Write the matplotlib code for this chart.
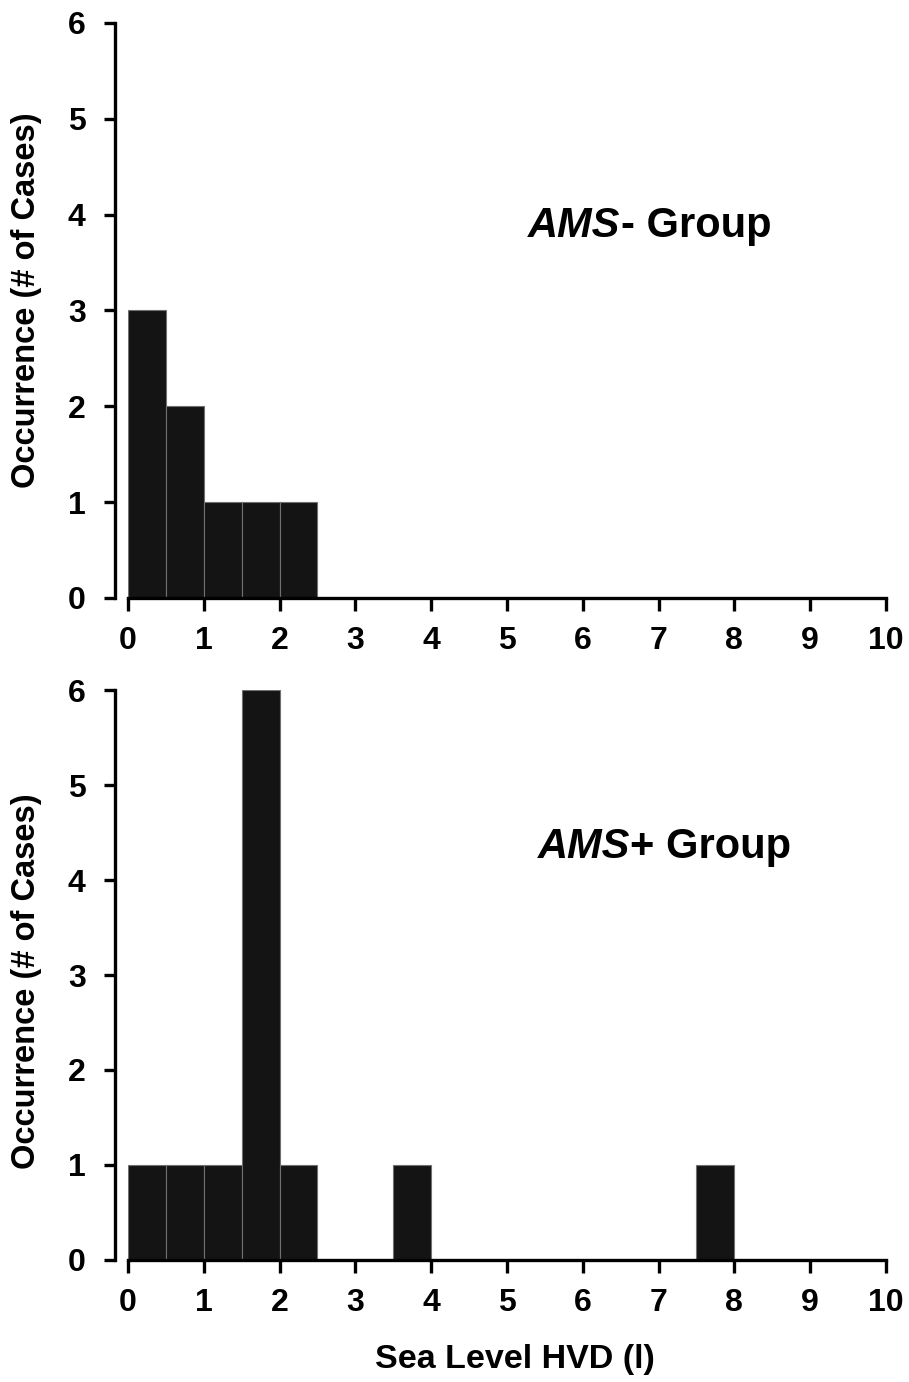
import numpy as np
import matplotlib
matplotlib.use("Agg")
import matplotlib.pyplot as plt

plt.rcParams['font.family'] = ['Liberation Sans', 'DejaVu Sans']

# histogram bins (left edges, width 0.5 l)
bin_left = [0.0, 0.5, 1.0, 1.5, 2.0, 2.5, 3.0, 3.5, 4.0, 4.5,
            5.0, 5.5, 6.0, 6.5, 7.0, 7.5, 8.0, 8.5, 9.0, 9.5]
bin_width = 0.5

ams_minus = [3, 2, 1, 1, 1, 0, 0, 0, 0, 0, 0, 0, 0, 0, 0, 0, 0, 0, 0, 0]
ams_plus = [1, 1, 1, 6, 1, 0, 0, 1, 0, 0, 0, 0, 0, 0, 0, 1, 0, 0, 0, 0]

x_ticks = [0, 1, 2, 3, 4, 5, 6, 7, 8, 9, 10]
y_ticks = [0, 1, 2, 3, 4, 5, 6]

ylabel = 'Occurrence (# of Cases)'
xlabel = 'Sea Level HVD (l)'


def style_axes(ax, label_y):
    ax.set_xlim(0, 10)
    ax.set_ylim(0, 6)
    ax.set_xticks(x_ticks)
    ax.set_yticks(y_ticks)
    ax.spines['top'].set_visible(False)
    ax.spines['right'].set_visible(False)
    ax.spines['left'].set_linewidth(2.4)
    ax.spines['bottom'].set_linewidth(2.4)
    ax.spines['left'].set_position(('outward', 9.5))
    ax.tick_params(axis='x', direction='out', length=9, width=2.4,
                   pad=11, labelsize=23)
    ax.tick_params(axis='y', direction='out', length=8, width=2.4,
                   pad=13, labelsize=23)
    for lab in ax.get_xticklabels() + ax.get_yticklabels():
        lab.set_fontweight('bold')
    ax.set_ylabel(ylabel, fontsize=23.5, fontweight='bold')
    ax.yaxis.set_label_coords(-0.113, label_y)


fig = plt.figure(figsize=(9.09, 13.82), dpi=100)
ax1 = fig.add_axes([0.1408, 0.5673, 0.8339, 0.4161])
ax2 = fig.add_axes([0.1408, 0.0883, 0.8339, 0.4124])

for ax, counts, ly in [(ax1, ams_minus, 0.518), (ax2, ams_plus, 0.489)]:
    ax.bar(bin_left, counts, width=bin_width, align='edge',
           color='#141414', edgecolor='#707070', linewidth=0.8, zorder=2)
    style_axes(ax, ly)

ax1.text(6.50, 3.77, 'AMS', fontsize=30, fontweight='bold', fontstyle='italic',
         ha='right', va='baseline')
ax1.text(6.50, 3.77, '- Group', fontsize=30, fontweight='bold',
         ha='left', va='baseline')

ax2.text(6.62, 4.23, 'AMS', fontsize=30, fontweight='bold', fontstyle='italic',
         ha='right', va='baseline')
ax2.text(6.62, 4.23, '+ Group', fontsize=30, fontweight='bold',
         ha='left', va='baseline')

ax2.set_xlabel(xlabel, fontsize=24.5, fontweight='bold')
ax2.xaxis.set_label_coords(0.5106, -0.148)

fig.savefig('out.png', dpi=100)
